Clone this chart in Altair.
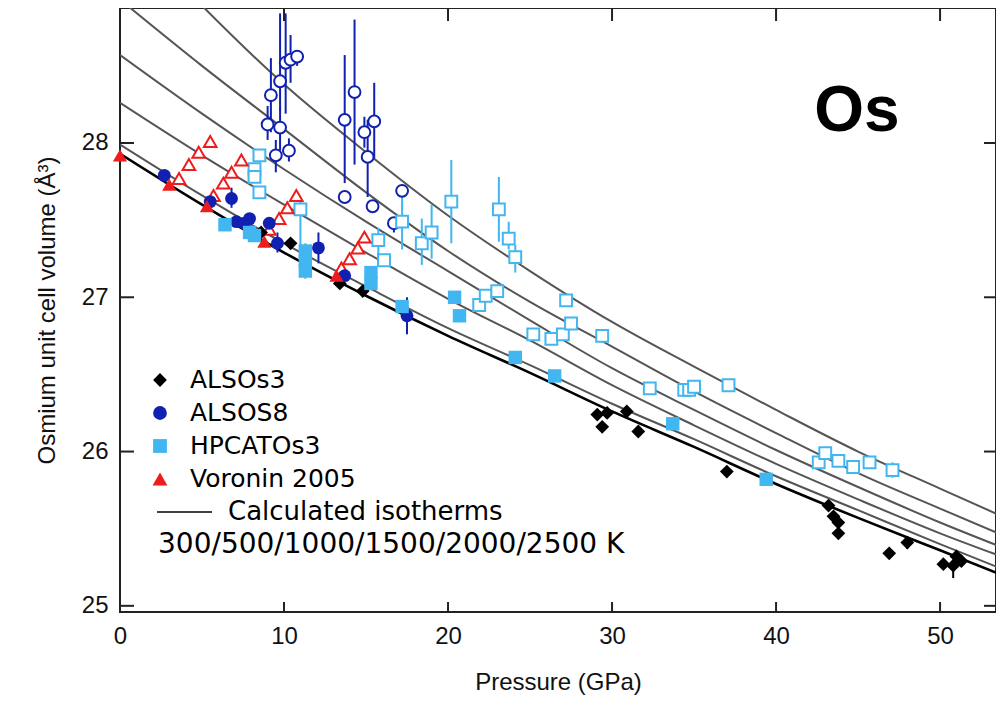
import altair as alt
import pandas as pd

# ---------------- data ----------------
P_GRID = [0, 5, 10, 15, 20, 25, 30, 35, 40, 45, 50, 54]
ISO_300K = [27.93, 27.60, 27.29, 27.01, 26.75, 26.51, 26.26, 26.03, 25.79, 25.57, 25.36, 25.19]
ISO_500K = [27.99, 27.66, 27.35, 27.07, 26.80, 26.56, 26.31, 26.08, 25.84, 25.62, 25.40, 25.23]
ISO_1000K = [28.26, 27.92, 27.60, 27.29, 26.99, 26.72, 26.43, 26.17, 25.92, 25.69, 25.47, 25.31]
ISO_1500K = [28.57, 28.19, 27.83, 27.49, 27.17, 26.85, 26.54, 26.27, 26.01, 25.77, 25.54, 25.37]
ISO_2000K = [28.93, 28.50, 28.09, 27.68, 27.30, 26.97, 26.68, 26.39, 26.12, 25.86, 25.63, 25.45]
ISO_2500K = [29.45, 28.89, 28.38, 27.94, 27.53, 27.17, 26.84, 26.55, 26.27, 26.00, 25.76, 25.57]

ALSOS3_P = [8.6, 10.4, 13.4, 14.8, 29.1, 29.7, 29.4, 30.9, 31.6, 37.0, 43.2, 43.5, 43.8, 43.8,
            48.0, 46.9, 50.2, 50.8, 51.0, 51.3]
ALSOS3_V = [27.42, 27.35, 27.09, 27.04, 26.24, 26.25, 26.16, 26.26, 26.13, 25.87, 25.65, 25.58,
            25.54, 25.47, 25.41, 25.34, 25.27, 25.26, 25.32, 25.29]
ALSOS3_ERR_P = [48.0, 50.8]
ALSOS3_ERR_LO = [25.37, 25.18]
ALSOS3_ERR_HI = [25.45, 25.30]

ALSOS8_P = [2.7, 5.5, 6.8, 7.1, 7.6, 7.9, 9.1, 9.6, 12.1, 13.7, 17.5]
ALSOS8_V = [27.79, 27.62, 27.64, 27.49, 27.48, 27.51, 27.48, 27.35, 27.32, 27.14, 26.88]
ALSOS8_ERR_P = [6.8, 9.6, 12.1, 17.5]
ALSOS8_ERR_LO = [27.58, 27.29, 27.22, 26.76]
ALSOS8_ERR_HI = [27.71, 27.42, 27.42, 27.00]

ALSOS8_HOT_P = [9.0, 9.2, 9.5, 9.76, 9.76, 10.1, 10.4, 10.3, 10.8, 13.7, 13.7, 14.3, 14.9, 15.1,
                15.5, 15.4, 16.7, 17.2]
ALSOS8_HOT_V = [28.12, 28.31, 27.92, 28.40, 28.10, 28.52, 28.54, 27.95, 28.56, 28.15, 27.65, 28.33,
                28.07, 27.91, 28.14, 27.59, 27.48, 27.69]
ALSOS8_HOT_LO = [28.02, 28.07, 27.81, 28.21, 27.95, 28.19, 28.39, 27.88, 28.50, 27.74, 27.65, 27.86,
                 27.97, 27.65, 27.90, 27.55, 27.42, 27.69]
ALSOS8_HOT_HI = [28.24, 28.55, 28.02, 28.84, 28.23, 28.84, 28.70, 28.03, 28.60, 28.57, 27.65, 28.80,
                 28.17, 28.15, 28.39, 27.63, 27.51, 27.69]

HPCAT_P = [6.4, 7.9, 8.2, 11.3, 11.3, 11.3, 15.3, 15.3, 17.2, 20.4, 20.7, 24.1, 26.5, 33.7, 39.4]
HPCAT_V = [27.47, 27.42, 27.40, 27.30, 27.23, 27.17, 27.16, 27.09, 26.94, 27.00, 26.88, 26.61,
           26.49, 26.18, 25.82]
HPCAT_ERR_P = [11.3]
HPCAT_ERR_LO = [27.12]
HPCAT_ERR_HI = [27.35]

HPCAT_HOT_P = [8.5, 8.2, 8.2, 8.5, 11.0, 15.75, 16.1, 17.2, 18.4, 19.0, 20.2, 21.9, 22.3, 23.0,
               23.1, 23.7, 24.1, 25.2, 26.3, 27.0, 27.5, 27.2, 29.4, 32.3, 34.4, 34.7, 35.0, 37.1,
               42.6, 43.0, 43.8, 44.7, 45.7, 47.1]
HPCAT_HOT_V = [27.92, 27.83, 27.78, 27.68, 27.57, 27.37, 27.24, 27.49, 27.35, 27.42, 27.62, 26.95,
               27.01, 27.04, 27.57, 27.38, 27.26, 26.76, 26.73, 26.76, 26.83, 26.98, 26.75, 26.41,
               26.40, 26.40, 26.42, 26.43, 25.93, 25.99, 25.94, 25.90, 25.93, 25.88]
HPCAT_HOT_LO = [27.92, 27.83, 27.78, 27.68, 27.13, 27.20, 27.24, 27.31, 27.21, 27.25, 27.35, 26.95,
                27.01, 27.00, 27.36, 27.31, 27.16, 26.76, 26.73, 26.76, 26.83, 26.98, 26.72, 26.41,
                26.40, 26.40, 26.42, 26.43, 25.93, 25.99, 25.94, 25.90, 25.93, 25.83]
HPCAT_HOT_HI = [27.92, 27.83, 27.78, 27.68, 27.62, 27.45, 27.24, 27.70, 27.51, 27.60, 27.89, 26.95,
                27.01, 27.08, 27.78, 27.49, 27.34, 26.76, 26.73, 26.76, 26.83, 26.98, 26.79, 26.41,
                26.40, 26.40, 26.42, 26.43, 25.93, 25.99, 25.94, 25.90, 25.93, 25.93]

VORONIN_P = [0.0, 3.0, 5.3, 8.8, 13.2]
VORONIN_V = [27.92, 27.73, 27.59, 27.36, 27.14]
VORONIN_HOT_P = [3.6, 4.2, 4.8, 5.5, 5.7, 6.3, 6.8, 7.4, 9.1, 9.7, 10.2, 10.75, 13.5, 14.0, 14.5, 14.9]
VORONIN_HOT_V = [27.77, 27.86, 27.94, 28.01, 27.66, 27.74, 27.81, 27.89, 27.44, 27.51, 27.58, 27.66,
                 27.19, 27.25, 27.32, 27.39]

X_TICKS = [0, 10, 20, 30, 40, 50]
Y_TICKS = [25, 26, 27, 28]

# ---------------- styling ----------------
W, H = 876, 604
X_DOMAIN = [0, 53.41]
Y_DOMAIN = [24.96, 28.875]
BLACK = "#000000"
DARK_BLUE = "#1020b0"
LIGHT_BLUE = "#41b6f0"
RED = "#ee1c1c"
GRAY = "#555555"
AX_FONT = "Liberation Sans"
LEG_FONT = "DejaVu Sans"

x_scale = alt.Scale(domain=X_DOMAIN, nice=False, zero=False)
y_scale = alt.Scale(domain=Y_DOMAIN, nice=False, zero=False)

x_axis = alt.Axis(values=X_TICKS, format="d", grid=False, domain=False, ticks=False, tickSize=0,
                  labelFlush=False,
                  labelFont=AX_FONT, labelFontSize=24, labelColor="#111", labelPadding=12,
                  title="Pressure (GPa)", titleFont=AX_FONT, titleFontSize=24,
                  titleFontWeight="normal", titleColor="#111", titlePadding=22)
y_axis = alt.Axis(values=Y_TICKS, format="d", grid=False, domain=False, ticks=False, tickSize=0,
                  labelFlush=False,
                  labelFont=AX_FONT, labelFontSize=24, labelColor="#111", labelPadding=12,
                  title="Osmium unit cell volume (Å³)", titleFont=AX_FONT, titleFontSize=24,
                  titleFontWeight="normal", titleColor="#111", titlePadding=22)

X = alt.X("P:Q", scale=x_scale, axis=x_axis)
Y = alt.Y("V:Q", scale=y_scale, axis=y_axis)


def df_pv(p, v):
    return pd.DataFrame({"P": p, "V": v})


# isotherms
iso_rows = []
for label, vals in [("500", ISO_500K), ("1000", ISO_1000K), ("1500", ISO_1500K),
                    ("2000", ISO_2000K), ("2500", ISO_2500K)]:
    for p, v in zip(P_GRID, vals):
        iso_rows.append({"P": p, "V": v, "T": label})
iso_hot = alt.Chart(pd.DataFrame(iso_rows)).mark_line(
    color=GRAY, strokeWidth=2, clip=True, interpolate="monotone"
).encode(x=X, y=Y, detail="T:N")
iso_300 = alt.Chart(df_pv(P_GRID, ISO_300K)).mark_line(
    color=BLACK, strokeWidth=2.6, clip=True, interpolate="monotone"
).encode(x=X, y=Y)


def errbars(p, lo, hi, color):
    d = pd.DataFrame({"P": p, "lo": lo, "hi": hi})
    return alt.Chart(d).mark_rule(color=color, strokeWidth=2, clip=True).encode(
        x=X, y=alt.Y("lo:Q", scale=y_scale, axis=y_axis), y2="hi:Q")


def pts(p, v, shape, color, size, filled):
    if filled:
        mk = alt.Chart(df_pv(p, v)).mark_point(shape=shape, filled=True, color=color,
                                               size=size, opacity=1, strokeWidth=0)
    else:
        mk = alt.Chart(df_pv(p, v)).mark_point(shape=shape, filled=True, fill="white",
                                               stroke=color, strokeWidth=2, size=size,
                                               opacity=1)
    return mk.encode(x=X, y=Y)


layers = [
    iso_hot, iso_300,
    errbars(ALSOS8_HOT_P, ALSOS8_HOT_LO, ALSOS8_HOT_HI, DARK_BLUE),
    errbars(HPCAT_HOT_P, HPCAT_HOT_LO, HPCAT_HOT_HI, LIGHT_BLUE),
    errbars(ALSOS8_ERR_P, ALSOS8_ERR_LO, ALSOS8_ERR_HI, DARK_BLUE),
    errbars(HPCAT_ERR_P, HPCAT_ERR_LO, HPCAT_ERR_HI, LIGHT_BLUE),
    errbars(ALSOS3_ERR_P, ALSOS3_ERR_LO, ALSOS3_ERR_HI, BLACK),
    pts(ALSOS8_HOT_P, ALSOS8_HOT_V, "circle", DARK_BLUE, 140, False),
    pts(HPCAT_HOT_P, HPCAT_HOT_V, "square", LIGHT_BLUE, 140, False),
    pts(VORONIN_HOT_P, VORONIN_HOT_V, "triangle-up", RED, 160, False),
    pts(ALSOS3_P, ALSOS3_V, "diamond", BLACK, 190, True),
    pts(ALSOS8_P, ALSOS8_V, "circle", DARK_BLUE, 165, True),
    pts(HPCAT_P, HPCAT_V, "square", LIGHT_BLUE, 180, True),
    pts(VORONIN_P, VORONIN_V, "triangle-up", RED, 200, True),
]

# inward ticks on all four sides
xt = pd.DataFrame({"P": X_TICKS})
yt = pd.DataFrame({"V": Y_TICKS})
layers += [
    alt.Chart(xt).mark_rule(color="#222", strokeWidth=2).encode(
        x=X, y=alt.value(H), y2=alt.value(H - 10)),
    alt.Chart(xt[xt.P > 0]).mark_rule(color="#222", strokeWidth=2).encode(
        x=X, y=alt.value(0), y2=alt.value(13)),
    alt.Chart(yt).mark_rule(color="#222", strokeWidth=2).encode(
        y=Y, x=alt.value(0), x2=alt.value(14)),
    alt.Chart(yt).mark_rule(color="#222", strokeWidth=2).encode(
        y=Y, x=alt.value(W), x2=alt.value(W - 12)),
]

# "Os" label
one = pd.DataFrame({"k": [0]})
layers.append(alt.Chart(one).mark_text(
    text="Os", font="Liberation Sans", fontSize=64, fontWeight="bold", color="black",
    align="center", baseline="middle").encode(x=alt.value(737), y=alt.value(104)))

# legend
LEGEND = [("ALSOs3", "diamond", BLACK, 190),
          ("ALSOS8", "circle", DARK_BLUE, 190),
          ("HPCATOs3", "square", LIGHT_BLUE, 190),
          ("Voronin 2005", "triangle-up", RED, 220)]
LEG_X, LEG_Y0, LEG_DY = 40, 372, 33
for i, (lab, shp, col, sz) in enumerate(LEGEND):
    yy = LEG_Y0 + i * LEG_DY
    layers.append(alt.Chart(one).mark_point(shape=shp, filled=True, color=col, size=sz,
                                            opacity=1, strokeWidth=0)
                  .encode(x=alt.value(LEG_X), y=alt.value(yy)))
    layers.append(alt.Chart(one).mark_text(text=lab, font=LEG_FONT, fontSize=25, color="black",
                                           align="left", baseline="middle")
                  .encode(x=alt.value(LEG_X + 30), y=alt.value(yy)))
y_line = LEG_Y0 + 4 * LEG_DY
layers.append(alt.Chart(one).mark_rule(color="black", strokeWidth=1.5).encode(
    x=alt.value(LEG_X - 3), x2=alt.value(LEG_X + 52), y=alt.value(y_line)))
layers.append(alt.Chart(one).mark_text(text="Calculated isotherms", font=LEG_FONT, fontSize=26,
                                       color="black", align="left", baseline="middle")
              .encode(x=alt.value(LEG_X + 68), y=alt.value(y_line)))
layers.append(alt.Chart(one).mark_text(text="300/500/1000/1500/2000/2500 K", font=LEG_FONT,
                                       fontSize=28, color="black", align="left",
                                       baseline="middle")
              .encode(x=alt.value(LEG_X - 2), y=alt.value(y_line + LEG_DY)))

chart = alt.layer(*layers).properties(
    width=W, height=H,
    autosize=alt.AutoSizeParams(type="none"),
    padding={"left": 112, "top": 0, "right": 0, "bottom": 85},
    background="white",
).configure_view(stroke="#222", strokeWidth=2)

chart.save("out.html", embed_options={"renderer": "svg", "actions": False})
